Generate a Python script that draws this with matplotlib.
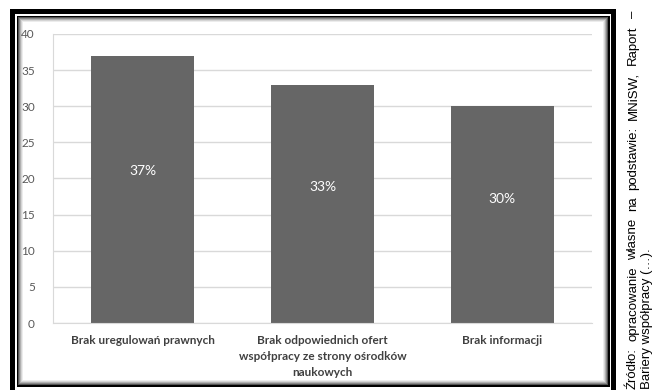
import matplotlib
matplotlib.use("Agg")
import matplotlib.pyplot as plt
from matplotlib.patches import Rectangle

categories = ["Brak uregulowań prawnych",
              "Brak odpowiednich ofert\nwspółpracy ze strony ośrodków\nnaukowych",
              "Brak informacji"]
values = [37, 33, 30]
labels = ["37%", "33%", "30%"]
yticks = [0, 5, 10, 15, 20, 25, 30, 35, 40]
source_line1 = ["Źródło:", "opracowanie", "własne", "na", "podstawie:", "MNiSW,", "Raport", "–"]
source_line2 = "Bariery współpracy (…)."

W, H = 656, 390
fig = plt.figure(figsize=(W / 100, H / 100), dpi=100)
fig.patch.set_facecolor("white")

def px_rect(x0, y0, x1, y1, **kw):
    # pixel coords with origin top-left
    r = Rectangle((x0, H - y1), x1 - x0, y1 - y0, transform=None, zorder=-5, **kw)
    fig.add_artist(r)

# outer thick black frame
px_rect(10, 9, 616, 400, facecolor="black", edgecolor="none")
px_rect(15, 14, 611, 400, facecolor="white", edgecolor="none")
# thin inner black line
px_rect(16.5, 15.5, 609.5, 386.5, facecolor="black", edgecolor="none")
# inner gradient shading
shades = ["#555555", "#888888", "#b0b0b0", "#d4d4d4", "#ececec"]
for i, c in enumerate(shades):
    px_rect(18 + i, 17 + i, 608 - i, 385 - i, facecolor=c, edgecolor="none")
px_rect(18 + len(shades), 17 + len(shades), 608 - len(shades), 385 - len(shades),
        facecolor="white", edgecolor="none")

ax = fig.add_axes([53 / W, (H - 323) / H, (592 - 53) / W, (323 - 34) / H])
ax.set_zorder(5)
ax.set_facecolor("none")
x = list(range(len(categories)))
bars = ax.bar(x, values, width=0.573, color="#666666", zorder=3)
ax.set_xlim(-0.5, len(categories) - 0.5)
ax.set_ylim(0, 40)
ax.set_yticks(yticks)
ax.set_yticklabels([str(t) for t in yticks], fontsize=8.5, color="#595959", family="Lato")
ax.set_xticks(x)
ax.set_xticklabels(categories, fontsize=8.5, fontweight="bold", color="#404040",
                   family="Lato", linespacing=1.55, va="top")
ax.tick_params(axis="both", length=0)
ax.tick_params(axis="y", pad=13)
ax.tick_params(axis="x", pad=9)
ax.grid(axis="y", color="#d9d9d9", linewidth=1, zorder=0)
for s in ["top", "right"]:
    ax.spines[s].set_visible(False)
ax.spines["left"].set_color("#d9d9d9")
ax.spines["bottom"].set_color("#d9d9d9")
ax.spines["bottom"].set_zorder(4)

for xi, v, lab in zip(x, values, labels):
    ax.text(xi, v * 0.57, lab, ha="center", va="center", color="white",
            fontsize=10, family="Lato", zorder=5)

# rotated, justified source text on the right
renderer = fig.canvas.get_renderer()
words = []
for word in source_line1:
    t = fig.text(633 / W, 0, word, rotation=90, ha="center", va="bottom",
                 fontsize=9.5, family="Liberation Sans", color="black")
    words.append(t)
lengths = [t.get_window_extent(renderer).height for t in words]
start, end = 389, 11  # pixel rows from top (line runs bottom to top)
gap = ((start - end) - sum(lengths)) / (len(words) - 1)
pos = start
for t, L in zip(words, lengths):
    t.set_y((H - pos) / H)
    pos -= L + gap
fig.text(647 / W, (H - 389) / H, source_line2, rotation=90, ha="center", va="bottom",
         fontsize=9.5, family="Liberation Sans", color="black")

fig.savefig("out.png", dpi=100)
